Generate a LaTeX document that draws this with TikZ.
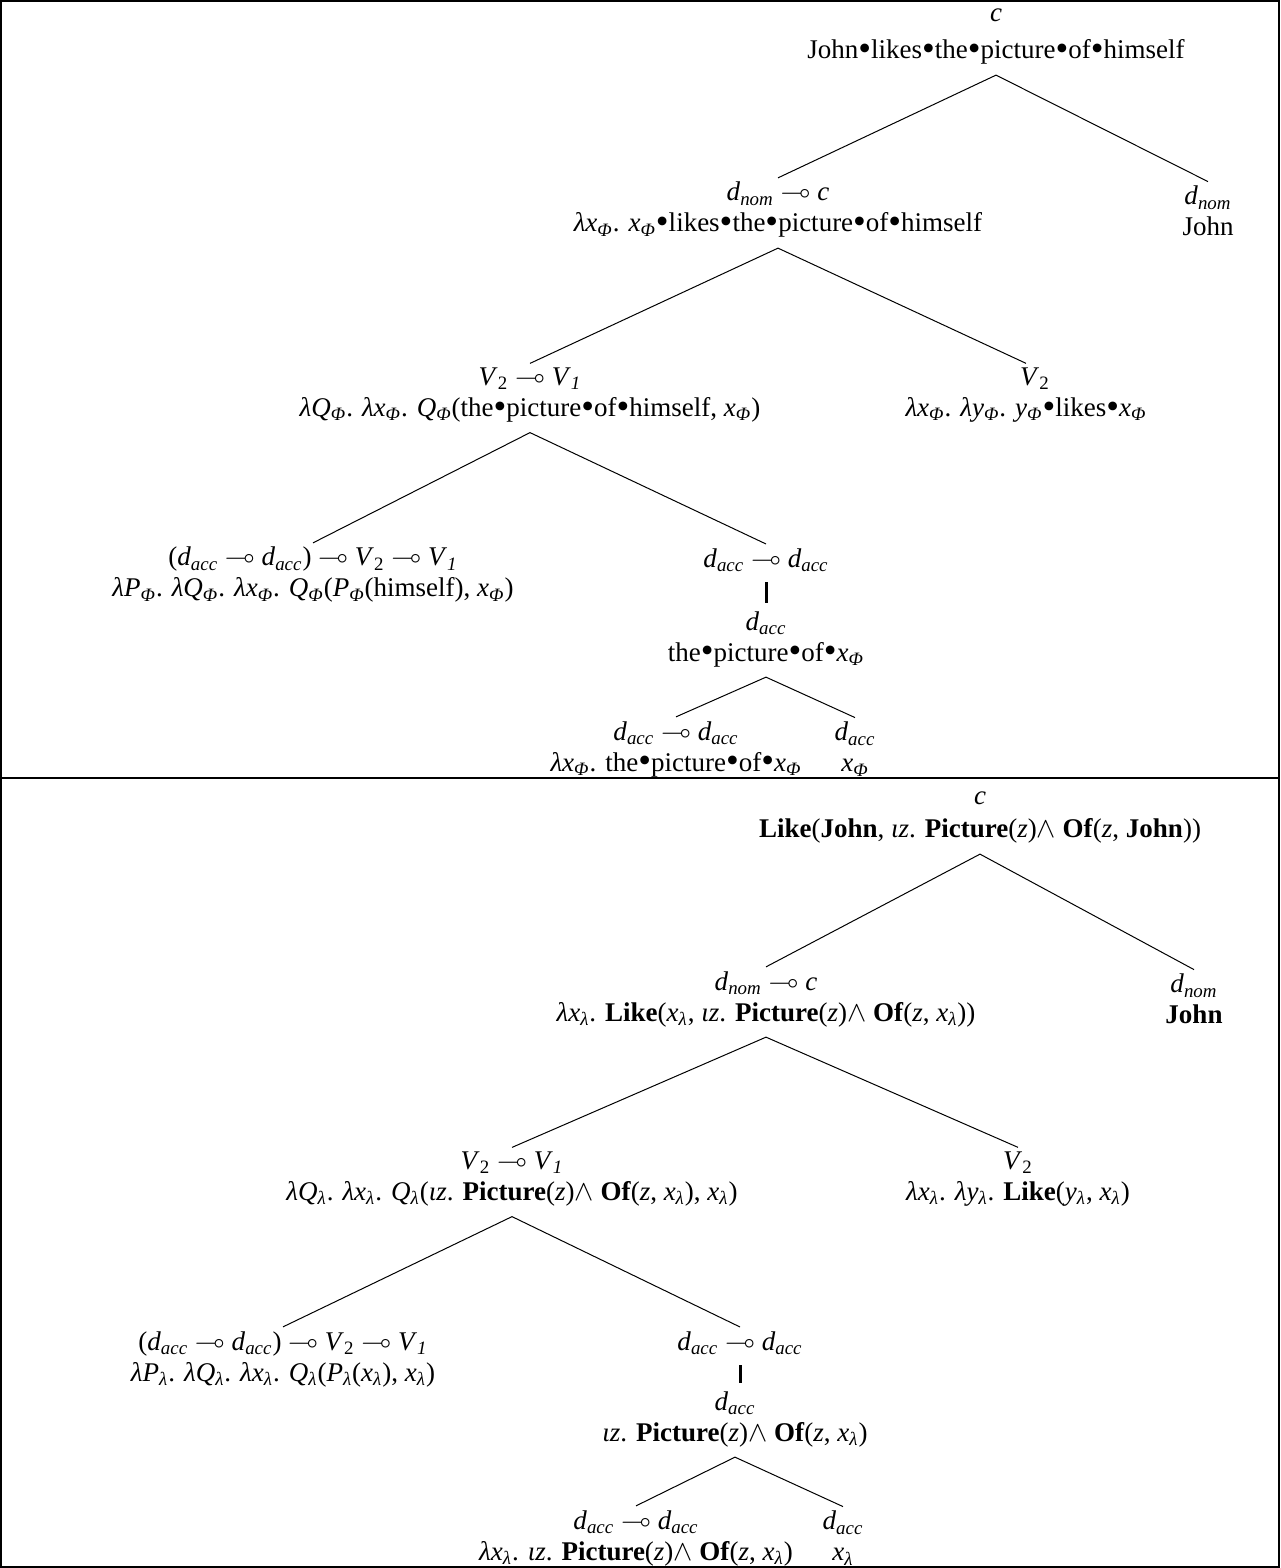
\documentclass[tikz,border=0pt]{standalone}
\usepackage{amssymb}
\usepackage{fontspec}
\setmainfont{Liberation Serif}
\tikzset{
    x=0.5pt, y=-0.5pt,
    lf/.style={align=center, inner sep=2pt, font=\fontsize{13.5}{15.5}\selectfont},
    branch/.style={line width=0.5pt},
    unary/.style={line width=1.5pt, shorten <=3pt, shorten >=2pt}
}
\newcommand{\ty}[2]{\textit{#1}\textsubscript{\textit{#2}}}
\newcommand{\lol}{$\multimap$}
\newcommand{\bul}{\raisebox{-0.07em}{\scalebox{1.35}{•}}}
\newcommand{\conj}{$\wedge$}
\newcommand{\vvi}{\textit{V}\textsubscript{2} \lol{} \textit{V}\textsubscript{\textit{1}}}

\begin{document}
\begin{tikzpicture}

\useasboundingbox (0,0) rectangle (1280,1568);
\draw[line width=1pt] (1,1) rectangle (1279,1567);
\draw[line width=1pt] (1,778) -- (1279,778);

% Nodes (strings)
\node[lf] (sC) at (996,37) {\textit{c}\\[3pt]John\bul likes\bul the\bul picture\bul of\bul himself};
\node[lf] (sDnomC) at (778,210) {\ty{d}{nom} \lol{} \textit{c}\\\textit{λ}\ty{x}{Φ}. \ty{x}{Φ}\bul likes\bul the\bul picture\bul of\bul himself};
\node[lf] (sJohn) at (1208,211) {\ty{d}{nom}\\John};
\node[lf] (sVV) at (530,395) {\vvi\\\textit{λ}\ty{Q}{Φ}. \textit{λ}\ty{x}{Φ}. \ty{Q}{Φ}(the\bul picture\bul of\bul himself, \ty{x}{Φ})};
\node[lf] (sLikes) at (1026,395) {\hspace*{9pt}\textit{V}\textsubscript{2}\\\textit{λ}\ty{x}{Φ}. \textit{λ}\ty{y}{Φ}. \ty{y}{Φ}\bul likes\bul\ty{x}{Φ}};
\node[lf] (sRefl) at (313,575) {(\ty{d}{acc} \lol{} \ty{d}{acc}) \lol{} \vvi\\\textit{λ}\ty{P}{Φ}. \textit{λ}\ty{Q}{Φ}. \textit{λ}\ty{x}{Φ}. \ty{Q}{Φ}(\ty{P}{Φ}(himself), \ty{x}{Φ})};
\node[lf] (sDaccFn) at (766,560) {\ty{d}{acc} \lol{} \ty{d}{acc}};
\node[lf] (sDacc) at (766,639) {\ty{d}{acc}\\the\bul picture\bul of\bul\ty{x}{Φ}};
\node[lf] (sNoun) at (676,749) {\ty{d}{acc} \lol{} \ty{d}{acc}\\\textit{λ}\ty{x}{Φ}. the\bul picture\bul of\bul\ty{x}{Φ}};
\node[lf] (sVar) at (855,749) {\ty{d}{acc}\\\ty{x}{Φ}};

% Nodes (meanings)
\node[lf] (mC) at (980,818) {\textit{c}\\[1pt]\textbf{Like}(\textbf{John}, \textit{ιz}. \textbf{Picture}(\textit{z})\conj{} \textbf{Of}(\textit{z}, \textbf{John}))};
\node[lf] (mDnomC) at (766,999) {\ty{d}{nom} \lol{} \textit{c}\\\textit{λ}\ty{x}{λ}. \textbf{Like}(\ty{x}{λ}, \textit{ιz}. \textbf{Picture}(\textit{z})\conj{} \textbf{Of}(\textit{z}, \ty{x}{λ}))};
\node[lf] (mJohn) at (1194,999) {\ty{d}{nom}\\\textbf{John}};
\node[lf] (mVV) at (512,1179) {\vvi\\\textit{λ}\ty{Q}{λ}. \textit{λ}\ty{x}{λ}. \ty{Q}{λ}(\textit{ιz}. \textbf{Picture}(\textit{z})\conj{} \textbf{Of}(\textit{z}, \ty{x}{λ}), \ty{x}{λ})};
\node[lf] (mLikes) at (1018,1179) {\textit{V}\textsubscript{2}\\\textit{λ}\ty{x}{λ}. \textit{λ}\ty{y}{λ}. \textbf{Like}(\ty{y}{λ}, \ty{x}{λ})};
\node[lf] (mRefl) at (283,1359) {(\ty{d}{acc} \lol{} \ty{d}{acc}) \lol{} \vvi\\\textit{λ}\ty{P}{λ}. \textit{λ}\ty{Q}{λ}. \textit{λ}\ty{x}{λ}. \ty{Q}{λ}(\ty{P}{λ}(\ty{x}{λ}), \ty{x}{λ})};
\node[lf] (mDaccFn) at (740,1343) {\ty{d}{acc} \lol{} \ty{d}{acc}};
\node[lf] (mDacc) at (735,1419) {\ty{d}{acc}\\\textit{ιz}. \textbf{Picture}(\textit{z})\conj{} \textbf{Of}(\textit{z}, \ty{x}{λ})};
\node[lf] (mNoun) at (636,1538) {\ty{d}{acc} \lol{} \ty{d}{acc}\\\textit{λ}\ty{x}{λ}. \textit{ιz}. \textbf{Picture}(\textit{z})\conj{} \textbf{Of}(\textit{z}, \ty{x}{λ})};
\node[lf] (mVar) at (843,1538) {\ty{d}{acc}\\\ty{x}{λ}};

% Branches
\foreach \p/\c in {C/DnomC, C/John, DnomC/VV, DnomC/Likes, VV/Refl, VV/DaccFn, Dacc/Noun, Dacc/Var}{
  \draw[branch] ([yshift=-3pt]s\p.south) -- (s\c.north);
  \draw[branch] ([yshift=-3pt]m\p.south) -- (m\c.north);
}
\draw[unary] (sDaccFn.south) -- (sDaccFn.south |- sDacc.north);
\draw[unary] (mDaccFn.south) -- (mDaccFn.south |- mDacc.north);

\end{tikzpicture}
\end{document}
